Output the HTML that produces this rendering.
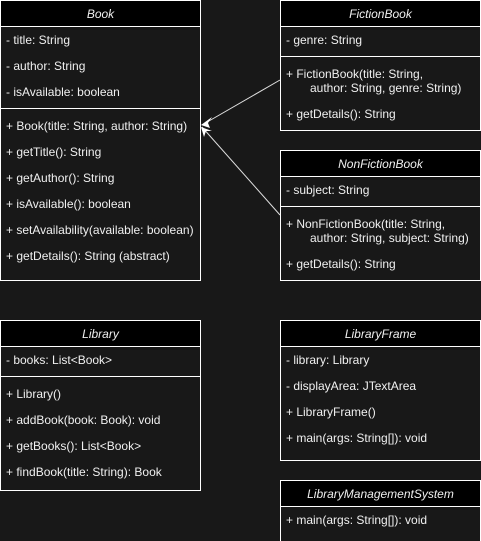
<!DOCTYPE html>
<html><head><meta charset="utf-8"><style>
html,body{margin:0;padding:0;background:#181818;}
svg{display:block}
text{font-family:"Liberation Sans",Arial,sans-serif;font-size:12px;fill:#f0f0f0}
.h{font-style:italic;text-anchor:middle}
</style></head><body>
<svg width="481" height="541" xmlns="http://www.w3.org/2000/svg">
<rect width="481" height="541" fill="#181818"/>
<g stroke="#ffffff" stroke-width="1">
<!-- Book -->
<rect x="0.5" y="0.5" width="200" height="280" fill="#181818"/>
<rect x="0.5" y="0.5" width="200" height="26" fill="#000"/>
<line x1="0.5" y1="108.5" x2="200.5" y2="108.5"/>
<!-- FictionBook -->
<rect x="280.5" y="0.5" width="200" height="130" fill="#181818"/>
<rect x="280.5" y="0.5" width="200" height="26" fill="#000"/>
<line x1="280.5" y1="56.5" x2="480.5" y2="56.5"/>
<!-- NonFictionBook -->
<rect x="280.5" y="150.5" width="200" height="130" fill="#181818"/>
<rect x="280.5" y="150.5" width="200" height="26" fill="#000"/>
<line x1="280.5" y1="206.5" x2="480.5" y2="206.5"/>
<!-- Library -->
<rect x="0.5" y="320.5" width="200" height="170" fill="#181818"/>
<rect x="0.5" y="320.5" width="200" height="26" fill="#000"/>
<line x1="0.5" y1="376.5" x2="200.5" y2="376.5"/>
<!-- LibraryFrame -->
<rect x="280.5" y="320.5" width="200" height="140" fill="#181818"/>
<rect x="280.5" y="320.5" width="200" height="26" fill="#000"/>
<!-- LMS -->
<rect x="280.5" y="480.5" width="200" height="70" fill="#181818"/>
<rect x="280.5" y="480.5" width="200" height="26" fill="#000"/>
</g>
<!-- connectors -->
<g stroke="#e0e0e0" stroke-width="1" fill="none">
<line x1="280" y1="80" x2="202" y2="125"/>
<line x1="280" y1="215" x2="202" y2="127"/>
</g>
<g fill="#ffffff">
<path d="M201,125 L212,117 L208,123 L210,128 Z"/>
<path d="M201,127 L212,131 L206,131 L204,137 Z"/>
</g>
<!-- Book text -->
<text class="h" x="100.5" y="18">Book</text>
<text x="6" y="44">- title: String</text>
<text x="6" y="70">- author: String</text>
<text x="6" y="96">- isAvailable: boolean</text>
<text x="6" y="130">+ Book(title: String, author: String)</text>
<text x="6" y="156">+ getTitle(): String</text>
<text x="6" y="182">+ getAuthor(): String</text>
<text x="6" y="208">+ isAvailable(): boolean</text>
<text x="6" y="234">+ setAvailability(available: boolean)</text>
<text x="6" y="260">+ getDetails(): String (abstract)</text>
<!-- FictionBook -->
<text class="h" x="380.5" y="18">FictionBook</text>
<text x="286" y="44">- genre: String</text>
<text x="286" y="78">+ FictionBook(title: String,</text>
<text x="310" y="92">author: String, genre: String)</text>
<text x="286" y="118">+ getDetails(): String</text>
<!-- NonFictionBook -->
<text class="h" x="380.5" y="168">NonFictionBook</text>
<text x="286" y="194">- subject: String</text>
<text x="286" y="228">+ NonFictionBook(title: String,</text>
<text x="310" y="242">author: String, subject: String)</text>
<text x="286" y="268">+ getDetails(): String</text>
<!-- Library -->
<text class="h" x="100.5" y="338">Library</text>
<text x="6" y="364">- books: List&lt;Book&gt;</text>
<text x="6" y="398">+ Library()</text>
<text x="6" y="424">+ addBook(book: Book): void</text>
<text x="6" y="450">+ getBooks(): List&lt;Book&gt;</text>
<text x="6" y="476">+ findBook(title: String): Book</text>
<!-- LibraryFrame -->
<text class="h" x="380.5" y="338">LibraryFrame</text>
<text x="286" y="364">- library: Library</text>
<text x="286" y="390">- displayArea: JTextArea</text>
<text x="286" y="416">+ LibraryFrame()</text>
<text x="286" y="442">+ main(args: String[]): void</text>
<!-- LMS -->
<text class="h" x="380.5" y="498">LibraryManagementSystem</text>
<text x="286" y="524">+ main(args: String[]): void</text>
</svg>
</body></html>
